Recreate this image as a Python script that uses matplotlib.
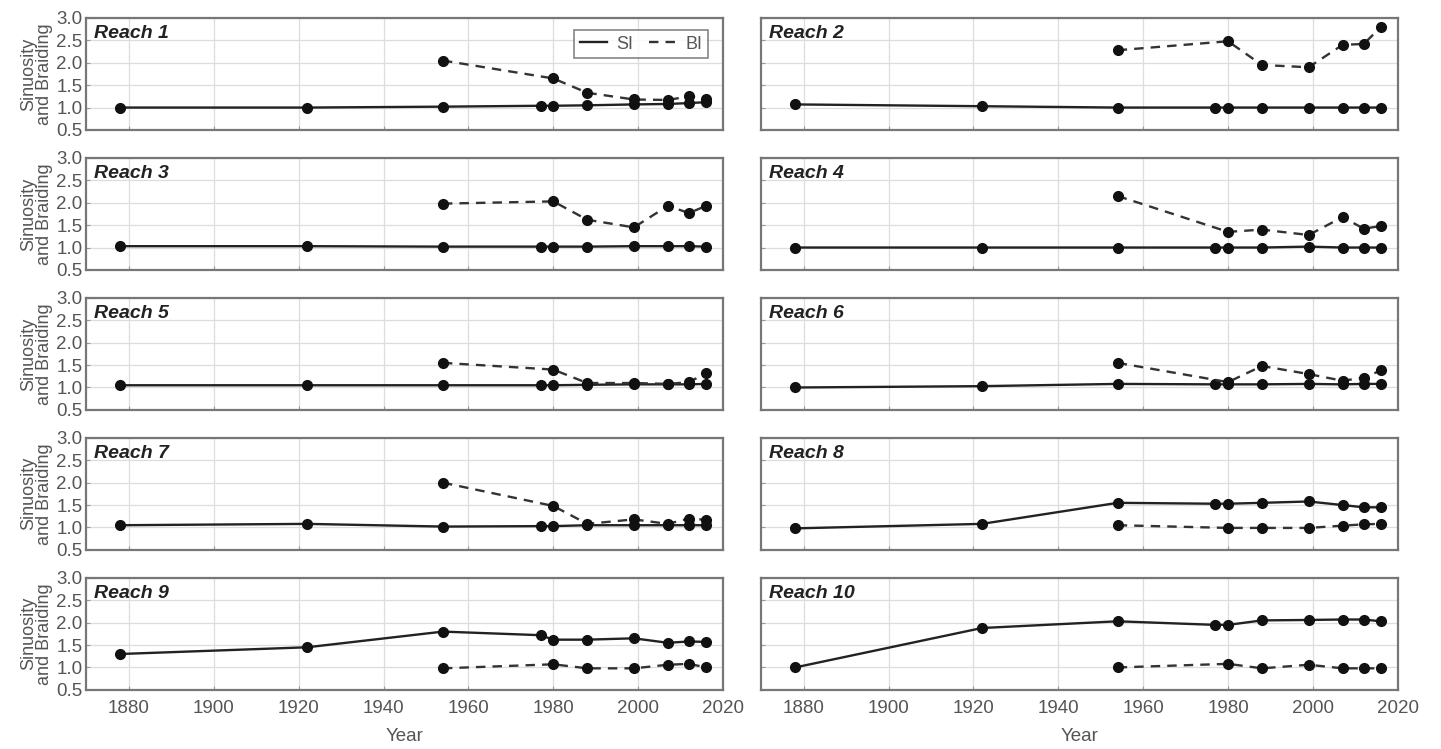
import matplotlib
matplotlib.use("Agg")
import matplotlib.pyplot as plt
from matplotlib.lines import Line2D

plt.rcParams['font.family'] = ['Liberation Sans', 'DejaVu Sans']

years_si = [1878, 1922, 1954, 1977, 1980, 1988, 1999, 2007, 2012, 2016]
years_bi = [1954, 1980, 1988, 1999, 2007, 2012, 2016]

reach_names = ["Reach 1", "Reach 2", "Reach 3", "Reach 4", "Reach 5",
               "Reach 6", "Reach 7", "Reach 8", "Reach 9", "Reach 10"]

si_r1 = [1.00, 1.00, 1.02, 1.04, 1.04, 1.05, 1.07, 1.08, 1.10, 1.12]
bi_r1 = [2.05, 1.65, 1.33, 1.18, 1.17, 1.25, 1.20]
si_r2 = [1.07, 1.03, 1.00, 1.00, 1.00, 1.00, 1.00, 1.00, 1.00, 1.00]
bi_r2 = [2.28, 2.48, 1.95, 1.90, 2.40, 2.42, 2.80]
si_r3 = [1.03, 1.03, 1.02, 1.02, 1.02, 1.02, 1.03, 1.03, 1.03, 1.02]
bi_r3 = [1.98, 2.03, 1.62, 1.45, 1.93, 1.77, 1.93]
si_r4 = [1.00, 1.00, 1.00, 1.00, 1.00, 1.00, 1.02, 1.00, 1.00, 1.00]
bi_r4 = [2.15, 1.35, 1.40, 1.28, 1.68, 1.42, 1.48]
si_r5 = [1.05, 1.05, 1.05, 1.05, 1.05, 1.06, 1.07, 1.07, 1.07, 1.08]
bi_r5 = [1.55, 1.40, 1.10, 1.10, 1.08, 1.12, 1.32]
si_r6 = [1.00, 1.03, 1.08, 1.07, 1.07, 1.07, 1.08, 1.07, 1.08, 1.08]
bi_r6 = [1.55, 1.12, 1.48, 1.30, 1.15, 1.22, 1.38]
si_r7 = [1.05, 1.08, 1.02, 1.03, 1.03, 1.05, 1.05, 1.05, 1.05, 1.05]
bi_r7 = [2.00, 1.48, 1.08, 1.18, 1.08, 1.20, 1.17]
si_r8 = [0.98, 1.08, 1.55, 1.53, 1.53, 1.55, 1.58, 1.50, 1.45, 1.45]
bi_r8 = [1.05, 0.99, 0.99, 0.99, 1.04, 1.07, 1.08]
si_r9 = [1.30, 1.45, 1.80, 1.72, 1.62, 1.62, 1.65, 1.55, 1.58, 1.57]
bi_r9 = [0.98, 1.07, 0.98, 0.98, 1.06, 1.08, 1.00]
si_r10 = [1.00, 1.88, 2.03, 1.95, 1.95, 2.05, 2.06, 2.07, 2.07, 2.03]
bi_r10 = [1.00, 1.08, 0.98, 1.06, 0.98, 0.98, 0.98]

si_all = [si_r1, si_r2, si_r3, si_r4, si_r5, si_r6, si_r7, si_r8, si_r9, si_r10]
bi_all = [bi_r1, bi_r2, bi_r3, bi_r4, bi_r5, bi_r6, bi_r7, bi_r8, bi_r9, bi_r10]

x_ticks = [1880, 1900, 1920, 1940, 1960, 1980, 2000, 2020]
y_ticks = [0.5, 1.0, 1.5, 2.0, 2.5, 3.0]

fig, axes = plt.subplots(5, 2, figsize=(14.41, 7.49), dpi=100)
fig.subplots_adjust(left=0.060, right=0.970, top=0.976, bottom=0.079,
                    hspace=0.25, wspace=0.06)

tick_color = '#555555'
for i, ax in enumerate(axes.flat):
    ax.plot(years_si, si_all[i], '-', color='#222222', lw=1.7, marker='o',
            ms=7, mfc='#111111', mec='#111111', label='SI', zorder=3)
    ax.plot(years_bi, bi_all[i], '--', color='#333333', lw=1.7, marker='o',
            ms=7, mfc='#111111', mec='#111111', label='BI', zorder=3,
            dashes=(4, 3))
    ax.set_xlim(1870, 2020)
    ax.set_ylim(0.5, 3.0)
    ax.set_xticks(x_ticks)
    ax.set_yticks(y_ticks)
    ax.grid(True, color='#dddddd', lw=0.9)
    ax.set_axisbelow(True)
    for s in ax.spines.values():
        s.set_color('#777777')
        s.set_linewidth(1.6)
    ax.tick_params(direction='in', length=3, colors='#999999',
                   labelcolor=tick_color, labelsize=13.5, pad=3)
    ax.text(0.012, 0.94, reach_names[i], transform=ax.transAxes,
            fontsize=14, fontweight='bold', fontstyle='italic',
            color='#222222', va='top', ha='left')
    row, col = divmod(i, 2)
    if col == 0:
        ax.set_ylabel("Sinuosity\nand Braiding", color=tick_color,
                      fontsize=13, labelpad=2, linespacing=0.9)
    else:
        ax.tick_params(labelleft=False)
    if row == 4:
        ax.set_xlabel("Year", color=tick_color, fontsize=13.5, labelpad=8)
        ax.tick_params(axis='x', pad=7)
    else:
        ax.tick_params(labelbottom=False)

handles = [Line2D([0], [0], color='#222222', lw=1.7, ls='-'),
           Line2D([0], [0], color='#333333', lw=1.7, dashes=(4, 3))]
leg = axes[0, 0].legend(handles, ['SI', 'BI'], loc='upper right', ncol=2,
                        fontsize=13, frameon=True, fancybox=False,
                        handlelength=1.5, columnspacing=0.9,
                        borderpad=0.3, handletextpad=0.5,
                        bbox_to_anchor=(0.99, 0.97))
leg.get_frame().set_edgecolor('#666666')
leg.get_frame().set_linewidth(1.2)
for t in leg.get_texts():
    t.set_color(tick_color)

fig.savefig("out.png", dpi=100)
